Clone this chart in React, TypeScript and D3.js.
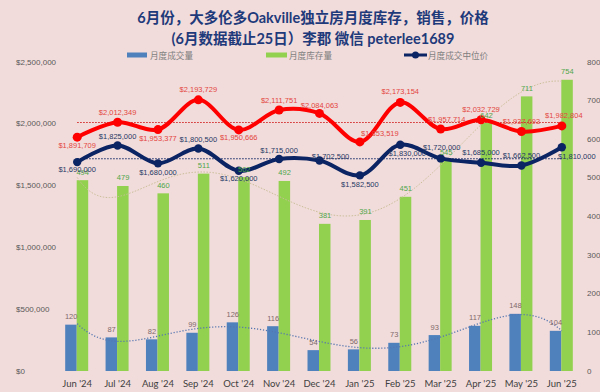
import React from 'react';
import * as d3 from 'd3';

const months = ["Jun '24", "Jul '24", "Aug '24", "Sep '24", "Oct '24", "Nov '24", "Dec '24", "Jan '25", "Feb '25", "Mar '25", "Apr '25", "May '25", "Jun '25"];
const salesCount = [120, 87, 82, 99, 126, 116, 54, 56, 73, 93, 117, 148, 104];
const inventory = [494, 479, 460, 511, 502, 492, 381, 391, 451, 545, 642, 711, 754];
const avgPrice = [1891709, 2012349, 1953377, 2193729, 1950666, 2111751, 2084063, 1853519, 2173154, 1957714, 2032729, 1937693, 1982804];
const medianPrice = [1690000, 1825000, 1680000, 1800500, 1620000, 1715000, 1702500, 1582500, 1830000, 1720000, 1685000, 1662500, 1810000];
const leftTicks = [0, 500000, 1000000, 1500000, 2000000, 2500000];
const rightTicks = [0, 100, 200, 300, 400, 500, 600, 700, 800];
const titleLines = ['6月份，大多伦多Oakville独立房月度库存，销售，价格', '(6月数据截止25日）李郡  微信 peterlee1689'];
const legendNames = ['月度成交量', '月度库存量', '月度成交中位价'];

// label placement offsets (layout only)
const redLabelOffsets = [[0, 8], [0, -10], [0, 9], [0, -10], [0, 8], [0, -9], [0, -8], [20, -8], [0, -11], [6, -10], [0, -10], [0, -10], [2, -10]];
const navyLabelOffsets = [[0, 7], [0, -9], [0, 9], [0, -9], [0, 8], [0, -9], [11, -4], [0, 9], [7, 9], [1, -11], [0, -10], [0, -10], [15, 9]];

function polyfit(ys: number[], deg: number) {
  const n = ys.length;
  const h = (n - 1) / 2;
  const xs = ys.map((_, i) => (i - h) / h);
  const m = deg + 1;
  const A: number[][] = [];
  for (let r = 0; r < m; r++) {
    const row: number[] = [];
    for (let c = 0; c < m; c++) row.push(d3.sum(xs, (x) => Math.pow(x, r + c)));
    row.push(d3.sum(xs.map((x, i) => Math.pow(x, r) * ys[i])));
    A.push(row);
  }
  for (let i = 0; i < m; i++) {
    let p = i;
    for (let k = i + 1; k < m; k++) if (Math.abs(A[k][i]) > Math.abs(A[p][i])) p = k;
    [A[i], A[p]] = [A[p], A[i]];
    for (let k = 0; k < m; k++) {
      if (k === i) continue;
      const f = A[k][i] / A[i][i];
      for (let c = i; c <= m; c++) A[k][c] -= f * A[i][c];
    }
  }
  const coef = A.map((row, i) => row[m] / row[i]);
  return (t: number) => {
    const x = (t - h) / h;
    return coef.reduce((s, c, i) => s + c * Math.pow(x, i), 0);
  };
}

const W = 600, H = 392;
const BG = '#F2DCDB';
const BLUE = '#4F81BD';
const GREEN = '#92D050';
const RED = '#FF0000';
const NAVY = '#0B2463';
const NUM_FONT = "'Liberation Sans Narrow', 'Liberation Sans', sans-serif";
const LAT_FONT = "Lato, 'Noto Sans CJK SC', sans-serif";

export default function App() {
  const x = d3.scaleBand<string>().domain(months).range([57, 582]);
  const cx = (i: number) => (x(months[i]) as number) + x.bandwidth() / 2;
  const yL = d3.scaleLinear().domain([0, 2500000]).range([371, 62]);
  const yR = d3.scaleLinear().domain([0, 800]).range([371, 62]);
  const barW = 11.5;
  const fmt = d3.format('$,');

  const lineL = d3.line<number>().x((_, i) => cx(i)).y((d) => yL(d)).curve(d3.curveCatmullRom.alpha(0.5));

  const trend = (vals: number[]) => {
    const f = polyfit(vals, 6);
    const ts = d3.range(0, vals.length - 1 + 0.001, 0.05);
    return d3.line<number>().x((t) => (x(months[0]) as number) + x.bandwidth() * (t + 0.5)).y((t) => yR(f(t)))(ts) as string;
  };

  const avgR = d3.mean(avgPrice) as number;
  const avgN = d3.mean(medianPrice) as number;
  const x0 = cx(0), x1 = cx(months.length - 1);

  return (
    <div style={{ position: 'fixed', left: 0, top: 0 }}>
      <svg width={W} height={H} style={{ display: 'block' }}>
        <rect x={0} y={0} width={W} height={H} fill={BG} />
        {/* title */}
        {titleLines.map((t, i) => (
          <text key={i} x={313} y={17 + i * 21} textAnchor="middle" dominantBaseline="central" fontFamily={LAT_FONT} fontWeight="bold" fontSize={14.5} fill="#1F3A7A">{t}</text>
        ))}
        {/* legend */}
        <g fontFamily="'Noto Sans CJK SC', sans-serif" fontSize={8.6} fill="#7F7F7F">
          <rect x={127} y={52.5} width={20} height={5} fill={BLUE} />
          <text x={150} y={55} dominantBaseline="central">{legendNames[0]}</text>
          <rect x={266} y={52.5} width={21} height={5} fill={GREEN} />
          <text x={289} y={55} dominantBaseline="central">{legendNames[1]}</text>
          <line x1={404} x2={427} y1={55} y2={55} stroke={NAVY} strokeWidth={3} />
          <circle cx={415.5} cy={55} r={3.5} fill={NAVY} />
          <text x={428} y={55} dominantBaseline="central">{legendNames[2]}</text>
        </g>
        {/* axes tick labels */}
        <g fontFamily={NUM_FONT} fontSize={8} fill="#595959">
          {leftTicks.map((t) => (
            <text key={t} x={16} y={yL(t)} dominantBaseline="central">{fmt(t)}</text>
          ))}
          {rightTicks.map((t) => (
            <text key={t} x={587} y={yR(t)} dominantBaseline="central">{t}</text>
          ))}
        </g>
        <g fontFamily={LAT_FONT} fontSize={9.5} fill="#404040">
          {months.map((m, i) => (
            <text key={m} x={cx(i)} y={383} textAnchor="middle" dominantBaseline="central">{m}</text>
          ))}
        </g>
        {/* bars */}
        {salesCount.map((v, i) => (
          <rect key={'b' + i} x={cx(i) - 12} y={yR(v)} width={barW} height={yR(0) - yR(v)} fill={BLUE} />
        ))}
        {inventory.map((v, i) => (
          <rect key={'g' + i} x={cx(i) - 0.5} y={yR(v)} width={barW} height={yR(0) - yR(v)} fill={GREEN} />
        ))}
        {/* trendlines */}
        <path d={trend(inventory)} fill="none" stroke="#C9BE98" strokeWidth={1} strokeDasharray="1.5 1.5" />
        <path d={trend(salesCount)} fill="none" stroke="#5677B0" strokeWidth={1.3} strokeDasharray="1.2 1.8" />
        {/* average lines */}
        <line x1={x0} x2={x1} y1={yL(avgR)} y2={yL(avgR)} stroke="#D02020" strokeWidth={1} strokeDasharray="1.5 1.5" />
        <line x1={x0} x2={x1} y1={yL(avgN)} y2={yL(avgN)} stroke={NAVY} strokeWidth={1} strokeDasharray="1.5 1.5" />
        {/* lines */}
        <path d={lineL(avgPrice) as string} fill="none" stroke={RED} strokeWidth={4} strokeLinejoin="round" />
        {avgPrice.map((v, i) => <circle key={'rc' + i} cx={cx(i)} cy={yL(v)} r={4.5} fill={RED} />)}
        <path d={lineL(medianPrice) as string} fill="none" stroke={NAVY} strokeWidth={4} strokeLinejoin="round" />
        {medianPrice.map((v, i) => <circle key={'nc' + i} cx={cx(i)} cy={yL(v)} r={4.2} fill={NAVY} />)}
        {/* labels */}
        <g fontFamily={NUM_FONT} fontSize={7.5} textAnchor="middle" dominantBaseline="central">
          {salesCount.map((v, i) => (
            <text key={'bl' + i} x={cx(i) - 6} y={yR(v) - 8} fill="#7F6A6A">{v}</text>
          ))}
          {inventory.map((v, i) => (
            <text key={'gl' + i} x={cx(i) + 5.5} y={yR(v) - 8} fill="#4EA64A">{v}</text>
          ))}
          {avgPrice.map((v, i) => (
            <text key={'rl' + i} x={cx(i) + redLabelOffsets[i][0]} y={yL(v) + redLabelOffsets[i][1]} fill="#E2463F">{fmt(v)}</text>
          ))}
          {medianPrice.map((v, i) => (
            <text key={'nl' + i} x={cx(i) + navyLabelOffsets[i][0]} y={yL(v) + navyLabelOffsets[i][1]} fill="#1F3864">{fmt(v)}</text>
          ))}
        </g>
      </svg>
    </div>
  );
}
